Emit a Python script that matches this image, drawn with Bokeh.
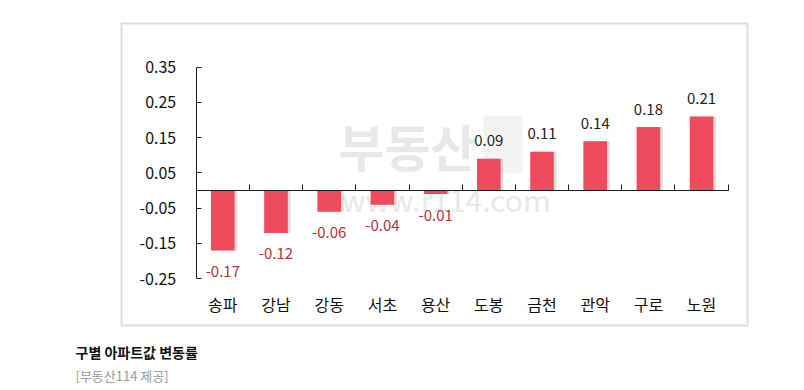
from bokeh.plotting import figure
from bokeh.models import (ColumnDataSource, Range1d, LinearAxis, FixedTicker, Label,
                          BoxAnnotation)
from bokeh.core.properties import value
from bokeh.transform import dodge
from bokeh.embed import file_html
from bokeh.resources import INLINE

# ---- data ----
districts = ["송파", "강남", "강동", "서초", "용산", "도봉", "금천", "관악", "구로", "노원"]
changes = [-0.17, -0.12, -0.06, -0.04, -0.01, 0.09, 0.11, 0.14, 0.18, 0.21]
y_ticks = [-0.25, -0.15, -0.05, 0.05, 0.15, 0.25, 0.35]
y_tick_labels = ["-0.25", "-0.15", "-0.05", "0.05", "0.15", "0.25", "0.35"]
caption_title = "구별 아파트값 변동률"
caption_source = "[부동산114 제공]"

FONT = "Noto Sans CJK KR"
BAR = "#EE4C5C"
W, H = 796, 384

xs = [i + 0.5 for i in range(len(districts))]
labels = [f"{v:.2f}" for v in changes]
pos = ColumnDataSource(dict(x=[x for x, v in zip(xs, changes) if v >= 0],
                            v=[v for v in changes if v >= 0],
                            t=[t for t, v in zip(labels, changes) if v >= 0]))
neg = ColumnDataSource(dict(x=[x for x, v in zip(xs, changes) if v < 0],
                            v=[v for v in changes if v < 0],
                            t=[t for t, v in zip(labels, changes) if v < 0]))
allsrc = ColumnDataSource(dict(x=xs, v=changes))

p = figure(width=W, height=H, output_backend="svg", toolbar_location=None,
           x_range=Range1d(-3.679, 11.284), y_range=Range1d(-0.5498, 0.5390),
           min_border=0, x_axis_type=None, y_axis_type=None)
p.grid.visible = False
p.outline_line_color = None
p.background_fill_color = "white"
p.border_fill_color = "white"

def scr(**kw):
    return dict(**kw)

# ---- outer box ----
p.add_layout(BoxAnnotation(left=121, right=747, top=H - 23, bottom=H - 325,
                           left_units="screen", right_units="screen",
                           top_units="screen", bottom_units="screen",
                           fill_color=None, line_color="#8f8f8f", line_width=2,
                           level="underlay"))

# ---- watermark ----
p.add_layout(Label(x=338, y=H - 144, x_units="screen", y_units="screen",
                   text="부동산", text_font=FONT, text_font_size="50px",
                   text_font_style="bold", text_color="#e8e8e8",
                   text_baseline="middle", level="underlay"))
p.add_layout(BoxAnnotation(left=483, right=522, top=H - 115, bottom=H - 173,
                           left_units="screen", right_units="screen",
                           top_units="screen", bottom_units="screen",
                           fill_color="#e2e2e2", line_color=None, level="underlay"))
p.add_layout(Label(x=341, y=H - 198, x_units="screen", y_units="screen",
                   text="www.r114.com", text_font=FONT, text_font_size="30px",
                   text_color="#e8e8e8", text_baseline="middle", level="underlay"))

# ---- bars with soft shadow ----
p.vbar(x=dodge("x", 0.05, range=p.x_range), top="v", bottom=0, width=0.444,
       source=allsrc, fill_color="#9a9a9a", fill_alpha=0.35, line_color=None)
p.vbar(x="x", top="v", bottom=0, width=0.444, source=allsrc,
       fill_color=BAR, line_color=None)

# ---- value labels ----
p.text(x="x", y="v", text="t", source=pos, text_align="center",
       text_baseline="alphabetic", y_offset=-18, text_font=value(FONT),
       text_font_size="15px", text_color="#222222")
p.text(x="x", y="v", text="t", source=neg, text_align="center",
       text_baseline="alphabetic", y_offset=21, text_font=value(FONT),
       text_font_size="15px", text_color="#B0323C")

AX = "#1c1c28"
# y axis
yax = LinearAxis(fixed_location=0, bounds=(-0.25, 0.35),
                 ticker=FixedTicker(ticks=y_ticks),
                 major_label_overrides={t: l for t, l in zip(y_ticks, y_tick_labels)})
yax.axis_line_color = AX
yax.major_tick_line_color = AX
yax.major_tick_in = 5
yax.major_tick_out = 0
yax.minor_tick_line_color = None
yax.major_label_standoff = 20
yax.major_label_text_font = FONT
yax.major_label_text_font_size = "16px"
yax.major_label_text_color = "#111111"
p.add_layout(yax, "left")

# zero axis with category boundary ticks
bticks = list(range(1, len(districts) + 1))
xax = LinearAxis(fixed_location=0, bounds=(0, len(districts)),
                 ticker=FixedTicker(ticks=bticks),
                 major_label_overrides={t: "" for t in bticks})
xax.axis_line_color = AX
xax.major_tick_line_color = AX
xax.major_tick_in = 6
xax.major_tick_out = 0
xax.minor_tick_line_color = None
p.add_layout(xax, "below")

# category labels
cax = LinearAxis(fixed_location=-0.25, ticker=FixedTicker(ticks=xs),
                 major_label_overrides={x: d for x, d in zip(xs, districts)})
cax.axis_line_color = None
cax.major_tick_line_color = None
cax.minor_tick_line_color = None
cax.major_label_standoff = 7
cax.major_label_text_font = FONT
cax.major_label_text_font_size = "16px"
cax.major_label_text_color = "#111111"
p.add_layout(cax, "below")

# ---- caption ----
p.add_layout(Label(x=75, y=H - 351, x_units="screen", y_units="screen",
                   text=caption_title, text_font=FONT, text_font_size="14px",
                   text_font_style="bold", text_color="#111111", text_baseline="middle"))
p.add_layout(Label(x=75, y=H - 375, x_units="screen", y_units="screen",
                   text=caption_source, text_font=FONT, text_font_size="13px",
                   text_color="#9a9a9a", text_baseline="middle"))

open("out.html", "w").write(file_html(p, INLINE))
